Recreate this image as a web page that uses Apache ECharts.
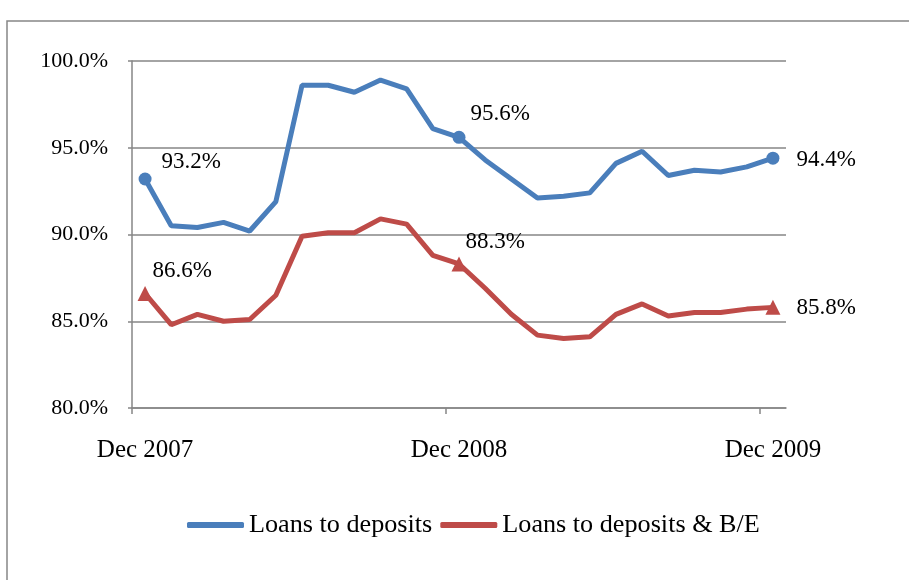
<!DOCTYPE html>
<html>
<head>
<meta charset="utf-8">
<script src="https://cdn.jsdelivr.net/npm/echarts@6/dist/echarts.min.js"></script>
<style>
html,body{margin:0;padding:0;background:#fff;}
#chart{width:909px;height:580px;}
</style>
</head>
<body>
<div id="chart"></div>
<script>
var months = ['Dec 2007','Jan 2008','Feb 2008','Mar 2008','Apr 2008','May 2008','Jun 2008','Jul 2008','Aug 2008','Sep 2008','Oct 2008','Nov 2008','Dec 2008','Jan 2009','Feb 2009','Mar 2009','Apr 2009','May 2009','Jun 2009','Jul 2009','Aug 2009','Sep 2009','Oct 2009','Nov 2009','Dec 2009'];
var loansToDeposits = [93.2,90.5,90.4,90.7,90.2,91.9,98.6,98.6,98.2,98.9,98.4,96.1,95.6,94.3,93.2,92.1,92.2,92.4,94.1,94.8,93.4,93.7,93.6,93.9,94.4];
var loansToDepositsBE = [86.6,84.8,85.4,85.0,85.1,86.5,89.9,90.1,90.1,90.9,90.6,88.8,88.3,86.9,85.4,84.2,84.0,84.1,85.4,86.0,85.3,85.5,85.5,85.7,85.8];
var seriesNames = ['Loans to deposits','Loans to deposits & B/E'];
var markedIdx = [0,12,24];
// category boundaries (one more than months) used only to place the x tick marks
var boundaries = months.map(function(m,i){return 'b'+i;}).concat(['b'+months.length]);

var FONT = '"Liberation Serif","Times New Roman",serif';
var BLUE = '#4A7EBB', RED = '#BE4B48', GRAY = '#868686';

function buildData(vals, size, offsets){
  return vals.map(function(v,i){
    var k = markedIdx.indexOf(i);
    if(k < 0) return {value:v, symbolSize:0, label:{show:false}};
    return {value:v, symbolSize:size,
      label:{show:true, position:'right', distance:5, offset:offsets[k],
        formatter:function(p){return p.value.toFixed(1)+'%';},
        fontFamily:FONT, fontSize:23, color:'#000'}};
  });
}

var chart = echarts.init(document.getElementById('chart'), null, {renderer:'canvas'});
chart.setOption({
  animation:false,
  backgroundColor:'#fff',
  graphic:[{type:'rect', shape:{x:7, y:21, width:920, height:600}, style:{fill:'none', stroke:GRAY, lineWidth:1.5}, silent:true}],
  grid:{left:132, right:123, top:61, bottom:172, containLabel:false},
  legend:{
    left:187, top:512, padding:0, itemGap:8, itemWidth:57, itemHeight:6, icon:'roundRect',
    textStyle:{fontFamily:FONT, fontSize:26.2, color:'#000'},
    data:seriesNames
  },
  xAxis:[{
    type:'category', data:months, boundaryGap:true, position:'bottom',
    axisLine:{lineStyle:{color:GRAY, width:1.5}},
    axisTick:{show:false},
    axisLabel:{interval:function(i){return i%12===0;}, margin:30, fontFamily:FONT, fontSize:25, color:'#000'},
    splitLine:{show:false}
  },{
    type:'category', data:boundaries, boundaryGap:false, position:'bottom',
    axisLine:{show:false},
    axisTick:{show:true, length:6, interval:function(i){return i%12===0;}, lineStyle:{color:GRAY, width:1.5}},
    axisLabel:{show:false},
    splitLine:{show:false}
  }],
  yAxis:{
    type:'value', min:80, max:100, interval:5,
    axisLine:{show:true, lineStyle:{color:GRAY, width:1.5}},
    axisTick:{show:true, length:4, lineStyle:{color:GRAY, width:1.5}},
    axisLabel:{margin:24, fontFamily:FONT, fontSize:22, color:'#000', formatter:function(v){return v.toFixed(1)+'%';}},
    splitLine:{show:true, lineStyle:{color:GRAY, width:1.5}}
  },
  series:[
    {name:seriesNames[0], type:'line', xAxisIndex:0, symbol:'circle', showAllSymbol:true,
     itemStyle:{color:BLUE}, lineStyle:{color:BLUE, width:5},
     data:buildData(loansToDeposits, 13, [[5,-17],[0,-23],[12,2]])},
    {name:seriesNames[1], type:'line', xAxisIndex:0, symbol:'triangle', showAllSymbol:true,
     itemStyle:{color:RED}, lineStyle:{color:RED, width:5},
     data:buildData(loansToDepositsBE, 15, [[-5,-23],[-6,-22],[11,1]])}
  ]
});
</script>
</body>
</html>
